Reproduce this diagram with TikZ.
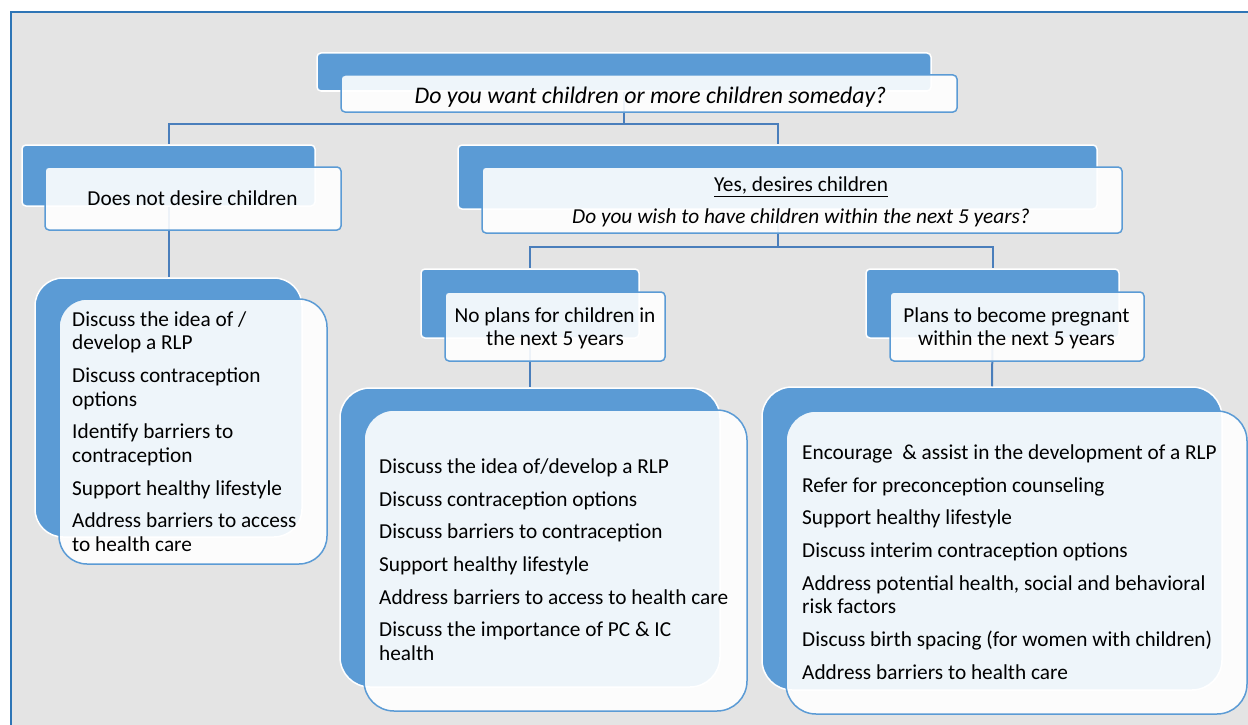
\documentclass[tikz,border=0pt]{standalone}
\usepackage{fontspec}
\setmainfont{Carlito}
\definecolor{accent}{HTML}{5B9BD5}
\definecolor{linkblue}{HTML}{4A7EBB}
\definecolor{panel}{HTML}{E4E4E4}
\definecolor{framec}{HTML}{2E75B6}
\newcommand{\bodyfont}{\fontsize{21.3}{23.5}\selectfont}
\begin{document}
\begin{tikzpicture}[x=1pt,y=-1pt,
  backbox/.style={draw=white, line width=1.5pt, fill=accent, inner sep=0pt},
  frontbox/.style={draw=accent, line width=1.5pt, fill=white, fill opacity=0.9, inner sep=0pt},
  conn/.style={draw=linkblue, line width=2pt},
  headtext/.style={inner sep=0pt, align=center, font=\bodyfont},
  listtext/.style={anchor=north west, inner sep=0pt, align=left, font=\bodyfont}]

% page and panel (the panel runs off the right and bottom edges)
\useasboundingbox (0,0) rectangle (1248,725);
\fill[white] (0,0) rectangle (1248,725);
\fill[panel] (11,12) rectangle (1248,725);
\draw[framec, line width=2pt] (11,725) -- (11,12) -- (1248,12);

% back boxes
\node[backbox, rounded corners=4pt, minimum width=614pt, minimum height=38pt] (q0b) at (624,72) {};
\node[backbox, rounded corners=4pt, minimum width=293pt, minimum height=61pt] (nob) at (168.5,175.5) {};
\node[backbox, rounded corners=4pt, minimum width=639pt, minimum height=64pt] (yesb) at (777.5,177) {};
\node[backbox, rounded corners=4pt, minimum width=218pt, minimum height=69pt] (npb) at (530,303.5) {};
\node[backbox, rounded corners=4pt, minimum width=253pt, minimum height=69pt] (plb) at (992.5,303.5) {};
\node[backbox, rounded corners=28pt, minimum width=267pt, minimum height=259pt] (lab) at (168.5,407.5) {};
\node[backbox, rounded corners=30pt, minimum width=380pt, minimum height=299pt] (lbb) at (530,537.5) {};
\node[backbox, rounded corners=30pt, minimum width=460pt, minimum height=303pt] (lcb) at (992,538.5) {};

% connectors
\coordinate (j0) at (624,124);
\coordinate (j1) at (777.5,247);
\draw[conn] (q0b.south) -- (j0);
\draw[conn] (j0) -| (nob.north);
\draw[conn] (j0) -| (yesb.north);
\draw[conn] (yesb.south) -- (j1);
\draw[conn] (j1) -| (npb.north);
\draw[conn] (j1) -| (plb.north);
\draw[conn] (nob.south) -- (lab.north);
\draw[conn] (npb.south) -- (lbb.north);
\draw[conn] (plb.south) -- (lcb.north);

% front boxes
\node[frontbox, rounded corners=4pt, minimum width=616pt, minimum height=37pt] (q0f) at (649,93.5) {};
\node[frontbox, rounded corners=4pt, minimum width=296pt, minimum height=63pt] (nof) at (193,198.5) {};
\node[frontbox, rounded corners=4pt, minimum width=640pt, minimum height=66pt] (yesf) at (802,200) {};
\node[frontbox, rounded corners=4pt, minimum width=220pt, minimum height=69pt] (npf) at (555,326.5) {};
\node[frontbox, rounded corners=4pt, minimum width=254pt, minimum height=69pt] (plf) at (1017,326.5) {};
\node[frontbox, rounded corners=28pt, minimum width=268pt, minimum height=265pt] (laf) at (193,431.5) {};
\node[frontbox, rounded corners=30pt, minimum width=383pt, minimum height=301pt] (lbf) at (555.5,560.5) {};
\node[frontbox, rounded corners=30pt, minimum width=461pt, minimum height=303pt] (lcf) at (1016.5,562.5) {};

% box headings
\node[headtext, font=\fontsize{23.8}{26}\selectfont\itshape] (q0t) at (650.5,97.5)
  {Do you want children or more children someday?};
\node[headtext] (not) at (192.5,198.5) {Does not desire children};
\node[headtext] (yest) at (801,202)
  {\underline{Yes, desires children}\\[8.5pt]\textit{Do you wish to have children within the next 5 years?}};
\node[headtext] (npt) at (555,328.5) {No plans for children in\\the next 5 years};
\node[headtext] (plt) at (1016.5,328.5) {Plans to become pregnant\\within the next 5 years};

% list texts
\node[listtext] (lat) at (72,311.5)
  {Discuss the idea of /\\develop a RLP\\[9.2pt]
   Discuss contraception\\options\\[9.2pt]
   Identify barriers to\\contraception\\[9.2pt]
   Support healthy lifestyle\\[9.2pt]
   Address barriers to access\\to health care};
\node[listtext] (lbt) at (379,458.5)
  {Discuss the idea of/develop a RLP\\[9.2pt]
   Discuss contraception options\\[9.2pt]
   Discuss barriers to contraception\\[9.2pt]
   Support healthy lifestyle\\[9.2pt]
   Address barriers to access to health care\\[9.2pt]
   Discuss the importance of PC \& IC\\health};
\node[listtext] (lct) at (802,444.5)
  {Encourage~ \& assist in the development of a RLP\\[9.2pt]
   Refer for preconception counseling\\[9.2pt]
   Support healthy lifestyle\\[9.2pt]
   Discuss interim contraception options\\[9.2pt]
   Address potential health, social and behavioral\\risk factors\\[9.2pt]
   Discuss birth spacing (for women with children)\\[9.2pt]
   Address barriers to health care};
\end{tikzpicture}
\end{document}
